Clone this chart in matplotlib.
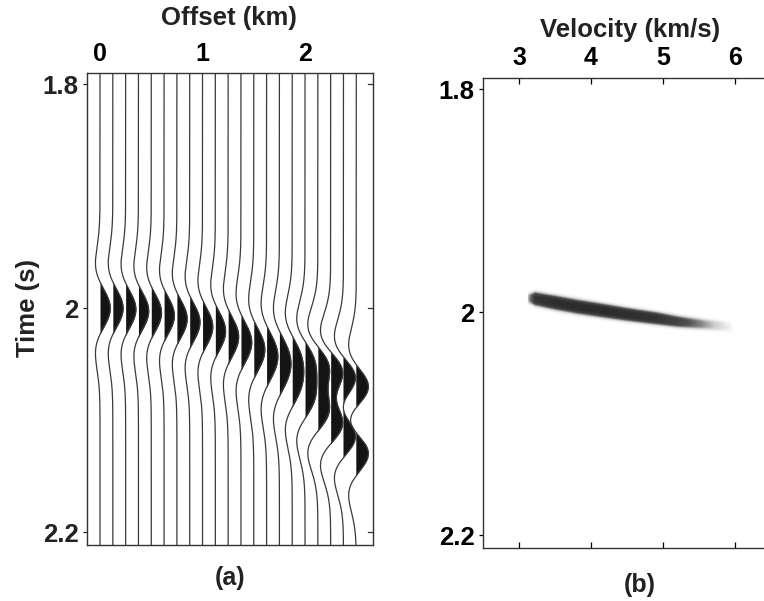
import numpy as np
import matplotlib
matplotlib.use("Agg")
import matplotlib.pyplot as plt
from matplotlib.colors import LinearSegmentedColormap

plt.rcParams['font.family'] = ['Liberation Sans', 'DejaVu Sans']
plt.rcParams['font.weight'] = 'bold'

# ---------------- data: panel (a) wiggle gather ----------------
offsets_km = [0.0, 0.125, 0.25, 0.375, 0.5, 0.625, 0.75, 0.875, 1.0, 1.125, 1.25,
              1.375, 1.5, 1.625, 1.75, 1.875, 2.0, 2.125, 2.25, 2.375, 2.5]
# picked arrival times (s) of the two interfering events on each trace
event1_time = [2.000, 2.000, 2.001, 2.002, 2.003, 2.005, 2.007, 2.009, 2.012, 2.015, 2.018,
               2.022, 2.027, 2.031, 2.036, 2.041, 2.047, 2.053, 2.059, 2.065, 2.073]
event2_time = [2.000, 2.000, 2.001, 2.003, 2.005, 2.008, 2.012, 2.016, 2.021, 2.026, 2.033,
               2.039, 2.047, 2.055, 2.063, 2.072, 2.081, 2.091, 2.101, 2.112, 2.127]
# peak deflection of each trace, in trace spacings
trace_gain = [0.80, 0.80, 0.80, 0.80, 0.80, 0.80, 0.80, 0.80, 0.80, 0.80, 0.82,
              0.84, 0.86, 0.88, 0.90, 0.90, 0.92, 0.92, 0.94, 0.94, 0.95]
wavelet_freq_hz = 9.6
offset_ticks = [0, 1, 2]
time_ticks = [1.8, 2.0, 2.2]
time_tick_labels = ['1.8', '2', '2.2']

# ---------------- data: panel (b) velocity spectrum ridge ----------------
ridge_velocity = [3.12, 3.22, 3.5, 3.8, 4.2, 4.5, 4.9, 5.2, 5.5, 5.75, 5.95]
ridge_time = [1.9875, 1.988, 1.9915, 1.995, 1.999, 2.002, 2.0055, 2.0085, 2.0105, 2.012, 2.0135]
ridge_strength = [0.4, 0.9, 0.97, 0.98, 0.98, 0.97, 0.92, 0.78, 0.55, 0.3, 0.06]
ridge_halfwidth = [0.0045, 0.0065, 0.0068, 0.0068, 0.0066, 0.0063, 0.006, 0.0055, 0.005, 0.0045, 0.004]
velocity_ticks = [3, 4, 5, 6]

# ---------------- figure ----------------
W, H = 764, 601
fig = plt.figure(figsize=(W / 100, H / 100), dpi=100)

def box(l, t, r, b):
    return [l / W, 1 - b / H, (r - l) / W, (b - t) / H]

axa = fig.add_axes(box(87, 73, 373, 545))
axb = fig.add_axes(box(483, 78, 771, 548))

tlim = (2.2115, 1.790)
tt = np.linspace(1.78, 2.22, 1400)

def ricker(t, f):
    a = (np.pi * f * t) ** 2
    return (1 - 2 * a) * np.exp(-a)

spacing = offsets_km[1] - offsets_km[0]
for x0, t1, t2, g in zip(offsets_km, event1_time, event2_time, trace_gain):
    s = ricker(tt - t1, wavelet_freq_hz) + ricker(tt - t2, wavelet_freq_hz)
    s = s / np.max(np.abs(s)) * g * spacing
    xs = x0 + s
    axa.fill_betweenx(tt, x0, xs, where=s > 0, color='#141414', lw=0, interpolate=True)
    axa.plot(xs, tt, color='#3a3a3a', lw=0.9)

axa.set_xlim(-0.127, 2.663)
axa.set_ylim(*tlim)
axa.xaxis.tick_top()
axa.set_xticks(offset_ticks)
axa.set_xticklabels([str(v) for v in offset_ticks])
axa.tick_params(axis='x', which='both', top=True, bottom=False, length=0, pad=5,
                labelsize=18)
axa.set_yticks(time_ticks)
axa.set_yticklabels(time_tick_labels)
axa.tick_params(axis='y', left=True, right=False, direction='out', length=3, width=0.9,
                pad=3, labelsize=18.5, colors='#222222')
for sp in axa.spines.values():
    sp.set_color('#333333')
    sp.set_linewidth(1.0)

# right-side inward ticks for panel a
for yv in time_ticks:
    axa.plot([2.663, 2.663 - 0.045], [yv, yv], color='#333333', lw=0.9, clip_on=False)

# panel b image
v_grid = np.linspace(2.5, 6.5, 500)
t_grid = np.linspace(1.79, 2.2115, 700)
tc = np.interp(v_grid, ridge_velocity, ridge_time)
st = np.interp(v_grid, ridge_velocity, ridge_strength, left=0, right=0)
hw = np.interp(v_grid, ridge_velocity, ridge_halfwidth)
img = st[None, :] * np.exp(-((t_grid[:, None] - tc[None, :]) / hw[None, :]) ** 4)

cmap = LinearSegmentedColormap.from_list('semb', ['#ffffff', '#d0d0d0', '#505050', '#2a2a2a'])
axb.imshow(img, extent=(2.5, 6.5, 2.2115, 1.79), origin='upper', aspect='auto',
           cmap=cmap, vmin=0, vmax=1, interpolation='bilinear')
axb.set_xlim(2.5, 6.5)
axb.set_ylim(*tlim)
axb.xaxis.tick_top()
axb.set_xticks(velocity_ticks)
axb.set_xticklabels([str(v) for v in velocity_ticks])
axb.tick_params(axis='x', top=True, bottom=True, direction='in', length=4, width=0.9,
                pad=6, labelsize=18)
axb.set_yticks(time_ticks)
axb.set_yticklabels(time_tick_labels)
axb.tick_params(axis='y', left=True, right=False, direction='out', length=3, width=0.9,
                pad=3, labelsize=18.5)
for sp in axb.spines.values():
    sp.set_color('#333333')
    sp.set_linewidth(1.0)

# labels
fig.text(229 / W, 1 - 18 / H, 'Offset (km)', ha='center', va='center', fontsize=18.5,
         fontweight='bold', color='#222222')
fig.text(630 / W, 1 - 30 / H, 'Velocity (km/s)', ha='center', va='center', fontsize=18.5,
         fontweight='bold', color='#222222')
fig.text(28 / W, 1 - 308 / H, 'Time (s)', ha='center', va='center', rotation=90,
         fontsize=18.5, fontweight='bold', color='#222222')
fig.text(230 / W, 1 - 578 / H, '(a)', ha='center', va='center', fontsize=18,
         fontweight='bold', color='#222222')
fig.text(640 / W, 1 - 585 / H, '(b)', ha='center', va='center', fontsize=18,
         fontweight='bold', color='#222222')

fig.savefig('out.png', dpi=100)
